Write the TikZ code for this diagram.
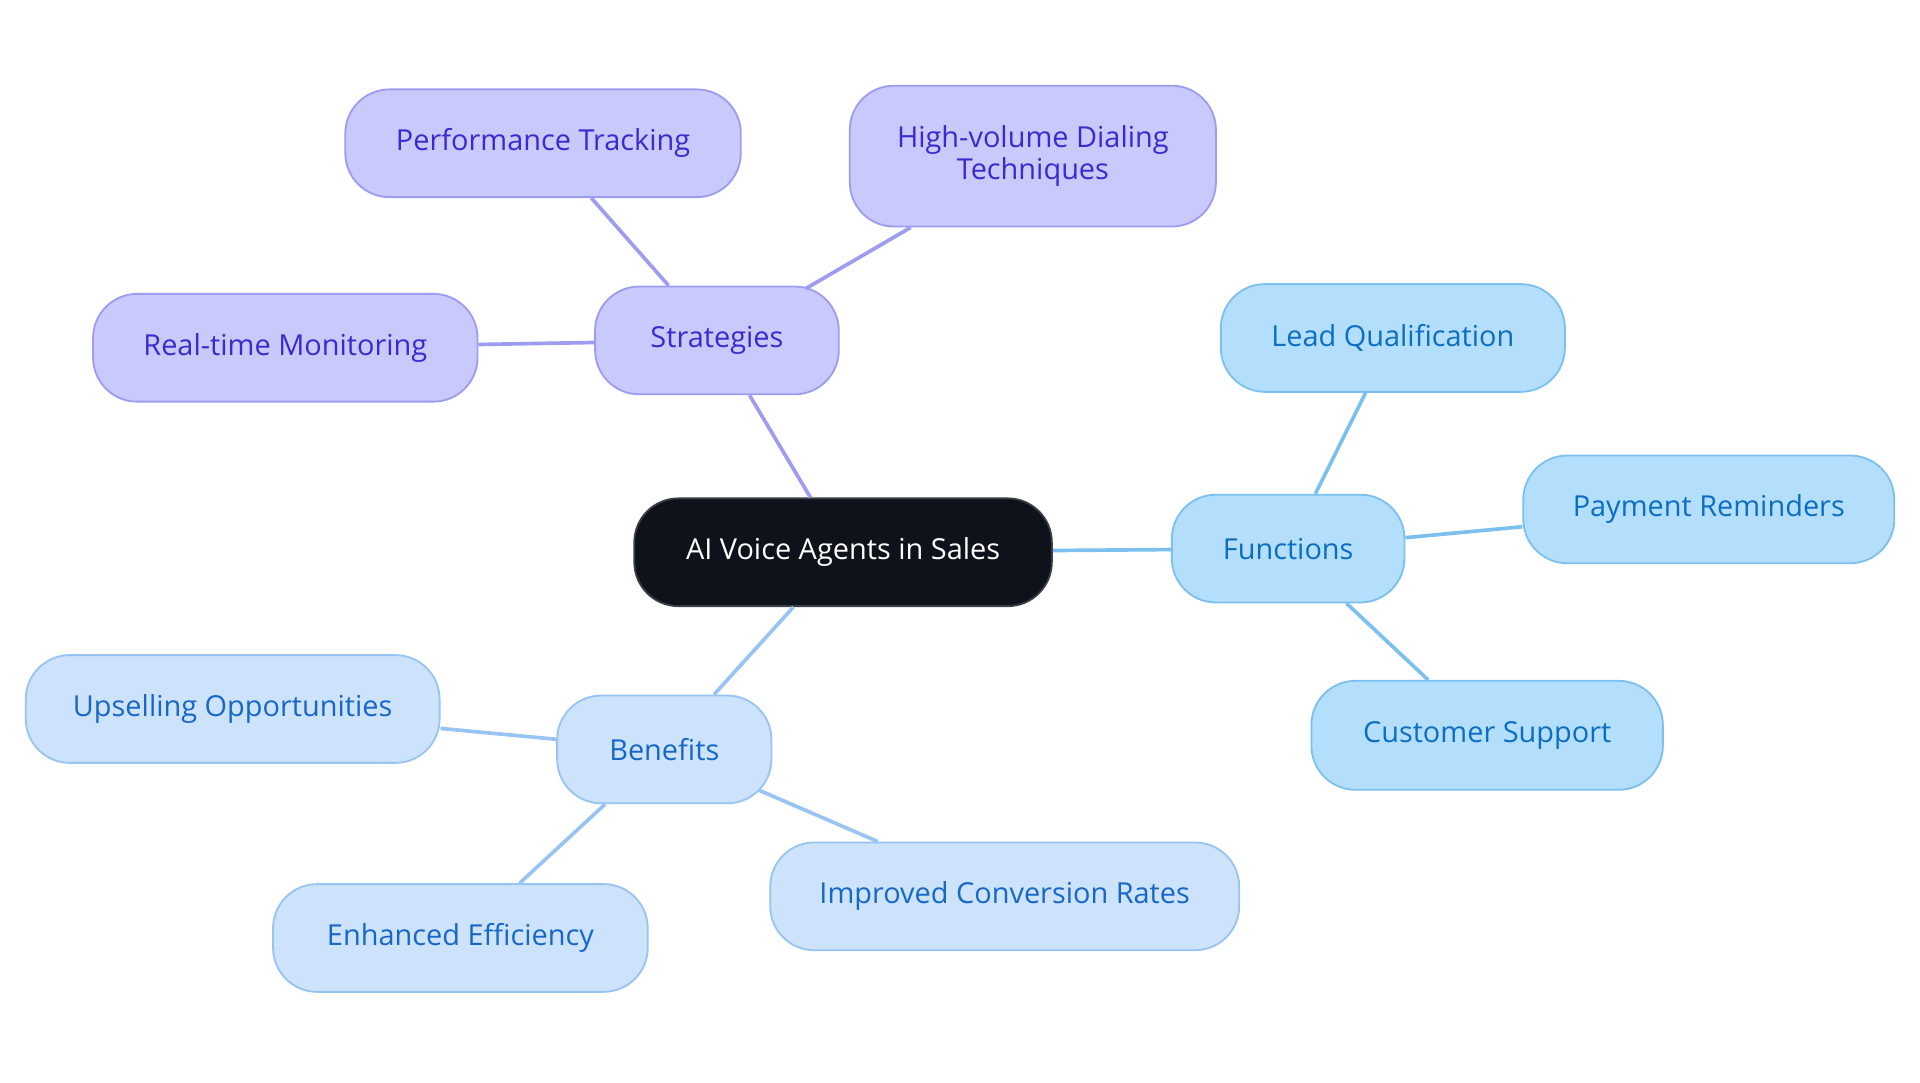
\documentclass[tikz,border=0pt]{standalone}
\usepackage{fontspec}
\setmainfont{Open Sans}
\definecolor{rootfill}{HTML}{0D121B}
\definecolor{rootdraw}{HTML}{3A3D44}
\definecolor{sfill}{HTML}{C9C9FC}
\definecolor{sdraw}{HTML}{9D9CF0}
\definecolor{stext}{HTML}{3A2BD0}
\definecolor{ffill}{HTML}{B4DFFC}
\definecolor{fdraw}{HTML}{7CC0F0}
\definecolor{ftext}{HTML}{0B6EC2}
\definecolor{bfill}{HTML}{CDE3FB}
\definecolor{bdraw}{HTML}{97C4F2}
\definecolor{btext}{HTML}{1767C8}
\tikzset{
  box/.style={draw, line width=0.75pt, rounded corners=18pt, align=center, inner sep=0pt,
    minimum height=44pt, font=\fontsize{11.8}{13}\selectfont},
  rootbox/.style={box, fill=rootfill, draw=rootdraw, text=white},
  sbox/.style={box, fill=sfill, draw=sdraw, text=stext},
  fbox/.style={box, fill=ffill, draw=fdraw, text=ftext},
  bbox/.style={box, fill=bfill, draw=bdraw, text=btext},
  sline/.style={draw=sdraw, line width=1.5pt},
  fline/.style={draw=fdraw, line width=1.5pt},
  bline/.style={draw=bdraw, line width=1.5pt}
}
\begin{document}
\begin{tikzpicture}[x=0.5pt,y=-0.5pt]
\useasboundingbox (0,0) rectangle (1568,884.4);
\node[rootbox, minimum width=170.5pt] (root) at (688.5,451) {AI Voice Agents in Sales};
\node[sbox, minimum width=99.5pt] (str) at (585.5,278) {Strategies};
\node[sbox, minimum width=161.5pt] (perf) at (443.5,117) {Performance Tracking};
\node[sbox, minimum width=149.5pt, minimum height=57.5pt] (high) at (843.5,127.5) {High-volume Dialing\\Techniques};
\node[sbox, minimum width=157pt] (real) at (233,284) {Real-time Monitoring};
\node[fbox, minimum width=95pt] (fun) at (1052,448) {Functions};
\node[fbox, minimum width=140.5pt] (lead) at (1137.5,276) {Lead Qualification};
\node[fbox, minimum width=151.5pt] (pay) at (1395.5,416) {Payment Reminders};
\node[fbox, minimum width=143.5pt, minimum height=44.5pt] (cust) at (1214.5,600.5) {Customer Support};
\node[bbox, minimum width=87.5pt] (ben) at (542.5,612) {Benefits};
\node[bbox, minimum width=169pt] (ups) at (190,579) {Upselling Opportunities};
\node[bbox, minimum width=153pt] (enh) at (376,766) {Enhanced Efficiency};
\node[bbox, minimum width=191.5pt] (imp) at (820.5,732) {Improved Conversion Rates};
\draw[sline] (root) -- (str);
\draw[sline] (str) -- (perf);
\draw[sline, shorten <=-2.5pt] (str) -- (high);
\draw[sline] (str) -- (real);
\draw[fline] (root) -- (fun);
\draw[fline] (fun) -- (lead);
\draw[fline] (fun) -- (pay);
\draw[fline] (fun) -- (cust);
\draw[bline] (root) -- (ben);
\draw[bline] (ben) -- (ups);
\draw[bline] (ben) -- (enh);
\draw[bline, shorten <=-6pt] (ben) -- (imp);
\end{tikzpicture}
\end{document}
